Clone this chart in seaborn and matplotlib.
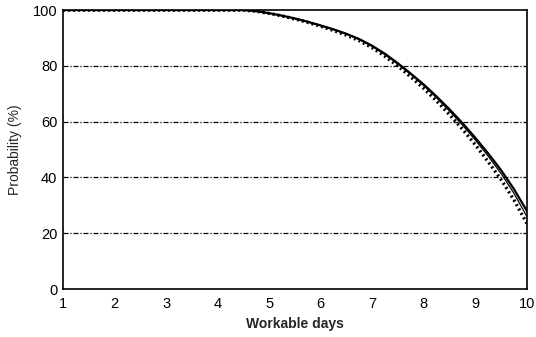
import matplotlib
matplotlib.use("Agg")
import matplotlib.pyplot as plt
import seaborn as sns
import pandas as pd

days = [1, 2, 3, 4, 4.5, 4.75, 5, 5.25, 5.5, 5.75, 6, 6.25, 6.5, 6.75, 7, 7.25, 7.5,
        7.75, 8, 8.25, 8.5, 8.75, 9, 9.25, 9.5, 9.75, 10]
series_a = [100, 100, 100, 100, 100, 99.6, 98.9, 98.0, 97.0, 95.8, 94.5, 93.1, 91.5, 89.6, 87.2, 84.3, 80.9,
            77.2, 73.3, 69.0, 64.4, 59.5, 54.2, 48.6, 42.6, 35.8, 28.0]
series_b = [100, 100, 100, 100, 100, 99.6, 98.9, 98.0, 97.0, 95.8, 94.4, 93.0, 91.4, 89.4, 87.0, 84.0, 80.6,
            76.9, 72.9, 68.5, 63.8, 58.8, 53.4, 47.6, 41.4, 34.3, 26.0]
series_c = [100, 100, 100, 100, 100, 99.6, 98.8, 97.9, 96.8, 95.6, 94.2, 92.7, 91.0, 89.0, 86.5, 83.4, 79.9,
            76.0, 71.9, 67.4, 62.5, 57.3, 51.7, 45.6, 39.2, 31.9, 23.5]

x_ticks = [1, 2, 3, 4, 5, 6, 7, 8, 9, 10]
y_ticks = [0, 20, 40, 60, 80, 100]

df = pd.DataFrame({"days": days * 3,
                   "prob": series_a + series_b + series_c,
                   "series": ["A"] * len(days) + ["B"] * len(days) + ["C"] * len(days)})

sns.set_theme(style="white")
plt.rcParams["font.family"] = ["Liberation Sans", "DejaVu Sans"]

fig = plt.figure(figsize=(5.36, 3.37), dpi=100)
ax = fig.add_axes([0.1175, 0.1424, 0.8655, 0.8276])

for y in [20, 40, 60, 80]:
    ax.axhline(y, color="black", lw=0.9, ls=(0, (4, 1.5, 1, 1.5)), zorder=1)

styles = {"A": dict(lw=1.6, ls="-"), "B": dict(lw=0.9, ls="-"), "C": dict(lw=2.4, ls=(0, (0.6, 0.9)))}
for name, st in styles.items():
    sub = df[df.series == name]
    sns.lineplot(data=sub, x="days", y="prob", ax=ax, color="black", legend=False,
                 linewidth=st["lw"], linestyle=st["ls"], zorder=3)

ax.set_xlim(1, 10)
ax.set_ylim(0, 100)
ax.set_xticks(x_ticks)
ax.set_yticks(y_ticks)
ax.set_xticklabels([str(v) for v in x_ticks], fontsize=10.5)
ax.set_yticklabels([str(v) for v in y_ticks], fontsize=10.5)
ax.tick_params(axis="both", direction="inout", length=6, width=1, color="black", pad=3, labelcolor="black")
ax.tick_params(axis="y", pad=1)
for s in ax.spines.values():
    s.set_color("black")
    s.set_linewidth(1.2)
ax.set_xlabel("Workable days", fontsize=10, fontweight="bold", labelpad=4)
ax.set_ylabel("Probability (%)", fontsize=10, labelpad=8)

fig.savefig("out.png", dpi=100)
